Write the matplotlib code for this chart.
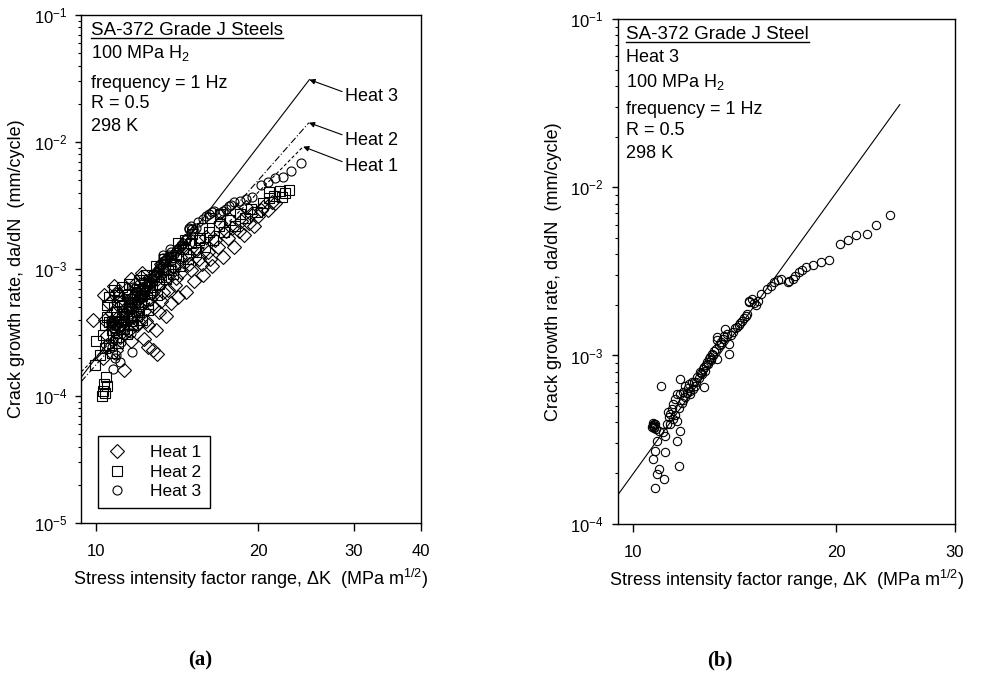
import numpy as np
import matplotlib.pyplot as plt
from matplotlib.lines import Line2D
from matplotlib.ticker import FixedLocator, NullLocator, NullFormatter, FuncFormatter, LogLocator

plt.rcParams['font.family'] = ['Liberation Sans', 'DejaVu Sans']
plt.rcParams['mathtext.fontset'] = 'custom'
plt.rcParams['mathtext.rm'] = 'Liberation Sans'
plt.rcParams['mathtext.it'] = 'Liberation Sans:italic'

# Heat 1 (diamonds), dK in MPa m^1/2, da/dN in mm/cycle
heat1_K = [9.87, 10.35, 10.8, 11.6, 12.1, 12.5, 12.75, 13.0, 12.3, 10.3, 10.5, 10.7,
           10.9, 11.0, 11.2, 11.3, 11.4, 11.6, 11.7, 11.9, 12.0, 12.2, 12.4, 12.6,
           12.9, 13.1, 13.3, 13.5, 13.6, 13.8, 14.0, 14.2, 14.4, 14.7, 14.9, 15.2,
           15.5, 15.8, 16.1, 16.4, 16.8, 17.2, 17.6, 18.0, 18.4, 18.8, 19.2, 19.6,
           20.0, 20.4, 20.8, 21.2, 21.5, 16.0, 17.0, 18.2, 19.0, 14.6, 13.2, 12.2,
           10.4, 10.5, 10.6, 10.8, 10.9, 11.0, 11.1, 11.2, 11.3, 11.4, 11.5, 11.6,
           11.7, 11.8, 11.9, 12.0, 12.1, 12.3, 12.4, 12.5, 12.7, 12.8, 13.0, 13.2,
           13.4, 13.6, 13.9, 14.1, 14.3, 14.8, 15.0, 15.4, 15.7, 16.3, 16.6, 17.4,
           17.9, 18.6, 19.4, 20.2]
heat1_da = [4.0e-4, 6.2e-4, 7.3e-4, 8.4e-4, 8.7e-4, 2.45e-4, 2.3e-4, 2.15e-4, 2.8e-4, 2.0e-4, 3.0e-4, 4.5e-4,
            2.3e-4, 5.5e-4, 3.2e-4, 1.6e-4, 4.6e-4, 2.7e-4, 6.0e-4, 3.6e-4, 5.0e-4, 7.0e-4, 3.9e-4, 5.8e-4,
            3.3e-4, 4.6e-4, 6.6e-4, 4.3e-4, 8.8e-4, 5.4e-4, 7.5e-4, 6.0e-4, 9.5e-4, 6.6e-4, 1.1e-3, 8.0e-4,
            1.2e-3, 9.0e-4, 1.35e-3, 1.05e-3, 1.5e-3, 1.25e-3, 1.75e-3, 1.5e-3, 2.0e-3, 1.85e-3, 2.3e-3, 2.2e-3,
            2.6e-3, 3.1e-3, 2.9e-3, 3.4e-3, 3.3e-3, 1.8e-3, 2.3e-3, 2.8e-3, 3.1e-3, 1.5e-3, 1.1e-3, 9.3e-4,
            4.0e-4, 2.5e-4, 5.4e-4, 3.5e-4, 6.5e-4, 4.2e-4, 2.9e-4, 5.9e-4, 3.8e-4, 7.0e-4, 3.3e-4, 5.2e-4,
            4.2e-4, 7.6e-4, 5.6e-4, 3.8e-4, 6.2e-4, 4.7e-4, 8.0e-4, 3.6e-4, 6.5e-4, 5.0e-4, 8.3e-4, 5.6e-4,
            9.7e-4, 6.8e-4, 1.05e-3, 8.5e-4, 1.25e-3, 1.3e-3, 9.8e-4, 1.45e-3, 1.1e-3, 1.2e-3, 1.7e-3, 2.0e-3,
            2.1e-3, 2.4e-3, 2.7e-3, 2.9e-3]

# Heat 2 (squares)
heat2_K = [10.25, 10.3, 10.4, 10.35, 10.5, 10.45, 9.95, 10.0, 10.2, 10.3, 10.4, 10.5,
           10.6, 10.7, 10.8, 10.9, 11.0, 11.1, 11.2, 11.3, 11.4, 11.5, 11.6, 11.8,
           11.9, 12.0, 12.2, 12.3, 12.5, 12.6, 12.8, 13.0, 13.1, 13.3, 13.5, 13.7,
           13.9, 14.1, 14.3, 14.5, 14.8, 15.0, 15.3, 15.6, 15.9, 16.2, 16.5, 16.9,
           17.3, 17.7, 18.1, 18.5, 18.9, 19.4, 19.9, 20.4, 20.9, 21.4, 21.9, 22.4,
           22.8, 22.1, 20.9, 15.5,
           10.4, 10.5, 10.6, 10.6, 10.7, 10.8, 10.8, 10.9, 11.0, 11.0, 11.1, 11.2,
           11.2, 11.3, 11.4, 11.5, 11.5, 11.6, 11.7, 11.8, 11.9, 12.0, 12.1, 12.2,
           12.3, 12.4, 12.5, 12.7, 12.9, 13.2, 13.4, 13.6, 13.8, 14.0, 14.2, 14.6,
           15.1, 15.7, 16.3, 17.0]
heat2_da = [1.0e-4, 1.1e-4, 1.05e-4, 1.25e-4, 1.2e-4, 1.4e-4, 1.75e-4, 2.7e-4, 2.1e-4, 3.0e-4, 3.6e-4, 4.2e-4,
            2.5e-4, 3.3e-4, 5.0e-4, 2.9e-4, 3.9e-4, 5.6e-4, 4.4e-4, 3.4e-4, 6.2e-4, 4.9e-4, 3.9e-4, 5.5e-4,
            7.0e-4, 4.6e-4, 6.1e-4, 7.8e-4, 5.3e-4, 6.8e-4, 8.8e-4, 6.2e-4, 7.6e-4, 1.0e-3, 8.3e-4, 1.15e-3,
            9.2e-4, 1.3e-3, 1.05e-3, 1.45e-3, 1.2e-3, 1.6e-3, 1.35e-3, 1.75e-3, 1.5e-3, 1.95e-3, 1.7e-3, 2.2e-3,
            1.95e-3, 2.45e-3, 2.2e-3, 2.7e-3, 2.5e-3, 2.95e-3, 2.8e-3, 3.3e-3, 3.6e-3, 3.75e-3, 4.1e-3, 4.0e-3,
            4.2e-3, 3.7e-3, 4.05e-3, 1.69e-3,
            2.4e-4, 5.2e-4, 3.8e-4, 6.0e-4, 2.2e-4, 3.9e-4, 6.8e-4, 4.6e-4, 2.6e-4, 6.3e-4, 3.6e-4, 5.1e-4,
            7.2e-4, 4.2e-4, 3.1e-4, 5.8e-4, 7.6e-4, 4.7e-4, 3.6e-4, 6.6e-4, 4.3e-4, 8.2e-4, 5.3e-4, 4.0e-4,
            6.5e-4, 9.0e-4, 4.8e-4, 7.2e-4, 1.05e-3, 8.6e-4, 1.2e-3, 9.8e-4, 1.25e-3, 1.1e-3, 1.6e-3, 1.7e-3,
            1.9e-3, 2.1e-3, 2.5e-3, 2.7e-3]

# Heat 3 (circles), shown in both panels
heat3_K = [10.65, 10.68, 10.70, 10.72, 10.75, 10.77, 10.71, 10.77, 10.77, 10.84, 10.84, 10.90,
           10.90, 10.98, 11.09, 11.15, 11.15, 11.21, 11.28, 11.34, 11.40, 11.47, 11.55, 11.61,
           11.61, 11.61, 11.67, 11.74, 11.74, 11.74, 11.80, 11.87, 11.94, 12.00, 12.08, 12.15,
           12.22, 12.29, 12.35, 12.43, 12.55, 12.65, 12.72, 12.72, 12.80, 12.87, 12.94, 13.01,
           13.08, 13.16, 13.32, 13.32, 13.32, 13.40, 13.47, 13.60, 13.70, 13.86, 13.86, 13.94,
           14.05, 14.27, 14.40, 14.51, 14.62, 14.76, 14.85, 14.85, 15.02, 15.19, 15.30, 15.45,
           15.81, 16.18, 16.56, 16.94, 17.23, 17.63, 18.04, 18.46, 19.00, 19.48, 20.23, 20.83,
           21.42, 22.25, 22.95, 24.03,
           10.68, 10.73, 10.80, 11.05, 11.25, 11.32, 11.45, 11.52, 11.68, 11.85, 11.92, 12.05,
           12.12, 12.25, 12.40, 12.50, 12.60, 12.68, 12.76, 12.90, 13.05, 13.12, 13.25, 13.50,
           13.65, 13.78, 14.15, 14.35, 14.70, 15.10, 16.0, 16.4, 17.0, 17.4, 17.8]
heat3_da = [3.74e-4, 3.85e-4, 3.80e-4, 3.70e-4, 3.90e-4, 3.92e-4, 2.43e-4, 2.72e-4, 1.64e-4, 3.12e-4, 1.98e-4, 3.58e-4,
            2.11e-4, 6.62e-4, 1.85e-4, 3.34e-4, 2.66e-4, 3.92e-4, 4.30e-4, 4.50e-4, 4.80e-4, 5.15e-4, 4.40e-4, 4.10e-4,
            3.12e-4, 5.91e-4, 2.21e-4, 3.58e-4, 5.91e-4, 7.26e-4, 5.20e-4, 5.40e-4, 6.62e-4, 6.00e-4, 6.78e-4, 6.19e-4,
            7.00e-4, 6.93e-4, 6.60e-4, 7.41e-4, 8.00e-4, 7.76e-4, 8.51e-4, 6.47e-4, 8.80e-4, 9.12e-4, 9.50e-4, 9.77e-4,
            1.02e-3, 1.07e-3, 9.55e-4, 1.23e-3, 1.28e-3, 1.15e-3, 1.17e-3, 1.25e-3, 1.44e-3, 1.17e-3, 1.02e-3, 1.32e-3,
            1.38e-3, 1.47e-3, 1.55e-3, 1.61e-3, 1.68e-3, 1.77e-3, 2.07e-3, 2.12e-3, 2.17e-3, 1.99e-3, 2.10e-3, 2.33e-3,
            2.49e-3, 2.73e-3, 2.86e-3, 2.73e-3, 2.86e-3, 3.13e-3, 3.36e-3, 3.43e-3, 3.59e-3, 3.71e-3, 4.62e-3, 4.84e-3,
            5.18e-3, 5.30e-3, 5.94e-3, 6.81e-3,
            3.95e-4, 3.78e-4, 3.65e-4, 3.5e-4, 4.6e-4, 3.9e-4, 4.2e-4, 5.5e-4, 4.9e-4, 6.1e-4, 5.7e-4, 6.4e-4,
            5.9e-4, 6.3e-4, 7.0e-4, 7.3e-4, 7.9e-4, 8.3e-4, 8.1e-4, 8.9e-4, 9.4e-4, 1.0e-3, 1.1e-3, 1.2e-3,
            1.3e-3, 1.35e-3, 1.45e-3, 1.52e-3, 1.72e-3, 2.05e-3, 2.6e-3, 2.8e-3, 2.78e-3, 2.95e-3, 3.2e-3]

# power-law fit lines (end points)
fit1_K = [9.4, 24.2]
fit1_da = [1.55e-4, 9.2e-3]
fit2_K = [9.4, 24.8]
fit2_da = [1.3e-4, 1.42e-2]
fit3_K = [9.4, 24.85]
fit3_da = [1.41e-4, 3.1e-2]

fig = plt.figure(figsize=(9.87, 6.87), dpi=100)
ax1 = fig.add_axes([0.0821, 0.2387, 0.3445, 0.7394])
ax2 = fig.add_axes([0.6258, 0.2377, 0.3417, 0.7346])

xlabel = 'Stress intensity factor range, \u0394K  (MPa m$\\mathregular{^{1/2}}$)'
ylabel = 'Crack growth rate, da/dN  (mm/cycle)'


def setup(ax, xlim, ylim, xt):
    ax.set_xscale('log')
    ax.set_yscale('log')
    ax.set_xlim(xlim)
    ax.set_ylim(ylim)
    ax.xaxis.set_major_locator(FixedLocator(xt))
    ax.xaxis.set_minor_locator(NullLocator())
    ax.xaxis.set_major_formatter(FuncFormatter(lambda v, p: '%d' % round(v)))
    ax.yaxis.set_major_locator(LogLocator(base=10))
    ax.yaxis.set_minor_locator(LogLocator(base=10, subs=np.arange(2, 10)))
    ax.yaxis.set_minor_formatter(NullFormatter())
    ax.yaxis.set_major_formatter(FuncFormatter(
        lambda v, p: r'$\mathregular{10^{%d}}$' % round(np.log10(v))))
    ax.tick_params(axis='x', which='major', direction='out', length=6, width=1, pad=9, labelsize=12)
    ax.tick_params(axis='y', which='major', direction='out', length=4, width=1, pad=6, labelsize=12)
    ax.tick_params(axis='y', which='minor', direction='out', length=2, width=0.8)
    for s in ax.spines.values():
        s.set_linewidth(1)
    ax.set_xlabel(xlabel, fontsize=13, labelpad=6)
    ax.set_ylabel(ylabel, fontsize=13, labelpad=6)


setup(ax1, (9.39, 40), (1e-5, 1e-1), [10, 20, 30, 40])
setup(ax2, (9.48, 30), (1e-4, 1e-1), [10, 20, 30])

mk = dict(ls='none', mfc='none', mec='black', mew=0.8)

# panel (a)
ax1.plot(fit3_K, fit3_da, color='black', lw=0.8)
ax1.plot(fit2_K, fit2_da, color='black', lw=0.8, ls=(0, (6, 2, 1, 2)))
ax1.plot(fit1_K, fit1_da, color='black', lw=0.8, ls=(0, (3, 2)))
ax1.plot(heat1_K, heat1_da, marker='D', ms=7, **mk)
ax1.plot(heat2_K, heat2_da, marker='s', ms=6.5, **mk)
ax1.plot(heat3_K, heat3_da, marker='o', ms=6.5, **mk)

arrow = dict(arrowstyle='-|>', color='black', lw=0.8, mutation_scale=8,
             shrinkA=0, shrinkB=0, relpos=(0, 0.75))
ax1.annotate('Heat 3', xy=(fit3_K[1], fit3_da[1]), xytext=(0.776, 0.839),
             textcoords='axes fraction', fontsize=13, ha='left', va='center', arrowprops=arrow)
ax1.annotate('Heat 2', xy=(fit2_K[1], fit2_da[1]), xytext=(0.776, 0.754),
             textcoords='axes fraction', fontsize=13, ha='left', va='center', arrowprops=arrow)
ax1.annotate('Heat 1', xy=(fit1_K[1], fit1_da[1]), xytext=(0.776, 0.701),
             textcoords='axes fraction', fontsize=13, ha='left', va='center', arrowprops=arrow)

t1 = ax1.text(0.029, 0.970, 'SA-372 Grade J Steels', transform=ax1.transAxes,
              fontsize=13.5, va='center')
ax1.text(0.029, 0.925, '100 MPa H$\\mathregular{_2}$', transform=ax1.transAxes, fontsize=13, va='center')
ax1.text(0.029, 0.866, 'frequency = 1 Hz', transform=ax1.transAxes, fontsize=13, va='center')
ax1.text(0.029, 0.825, 'R = 0.5', transform=ax1.transAxes, fontsize=13, va='center')
ax1.text(0.029, 0.781, '298 K', transform=ax1.transAxes, fontsize=13, va='center')

handles = [Line2D([], [], marker='D', ms=7, **mk),
           Line2D([], [], marker='s', ms=6.5, **mk),
           Line2D([], [], marker='o', ms=6.5, **mk)]
leg = ax1.legend(handles, ['Heat 1', 'Heat 2', 'Heat 3'], loc='lower left',
                 bbox_to_anchor=(0.05, 0.03), fancybox=False, edgecolor='black',
                 fontsize=12.5, borderpad=0.5, labelspacing=0.25, handlelength=1.2,
                 handletextpad=1.3, borderaxespad=0, framealpha=1)
leg.get_frame().set_linewidth(1)

# panel (b)
ax2.plot(fit3_K, fit3_da, color='black', lw=0.8)
ax2.plot(heat3_K, heat3_da, marker='o', ms=6, **mk)

t2 = ax2.text(0.025, 0.970, 'SA-372 Grade J Steel', transform=ax2.transAxes,
              fontsize=13.5, va='center')
ax2.text(0.025, 0.923, 'Heat 3', transform=ax2.transAxes, fontsize=13, va='center')
ax2.text(0.025, 0.875, '100 MPa H$\\mathregular{_2}$', transform=ax2.transAxes, fontsize=13, va='center')
ax2.text(0.025, 0.820, 'frequency = 1 Hz', transform=ax2.transAxes, fontsize=13, va='center')
ax2.text(0.025, 0.780, 'R = 0.5', transform=ax2.transAxes, fontsize=13, va='center')
ax2.text(0.025, 0.734, '298 K', transform=ax2.transAxes, fontsize=13, va='center')

fig.text(200 / 987, 1 - 660 / 687, '(a)', ha='center', va='center',
         family='Liberation Serif', weight='bold', fontsize=15)
fig.text(720 / 987, 1 - 660 / 687, '(b)', ha='center', va='center',
         family='Liberation Serif', weight='bold', fontsize=15)

# underline the titles
fig.canvas.draw()
for ax, t in [(ax1, t1), (ax2, t2)]:
    bb = t.get_window_extent()
    inv = ax.transAxes.inverted()
    (x0, y0), (x1, _) = inv.transform([[bb.x0, bb.y0 + 1], [bb.x1, bb.y0 + 1]])
    ax.add_line(Line2D([x0, x1], [y0, y0], transform=ax.transAxes,
                       color='black', lw=1, clip_on=False))

fig.savefig('out.png', dpi=100)
